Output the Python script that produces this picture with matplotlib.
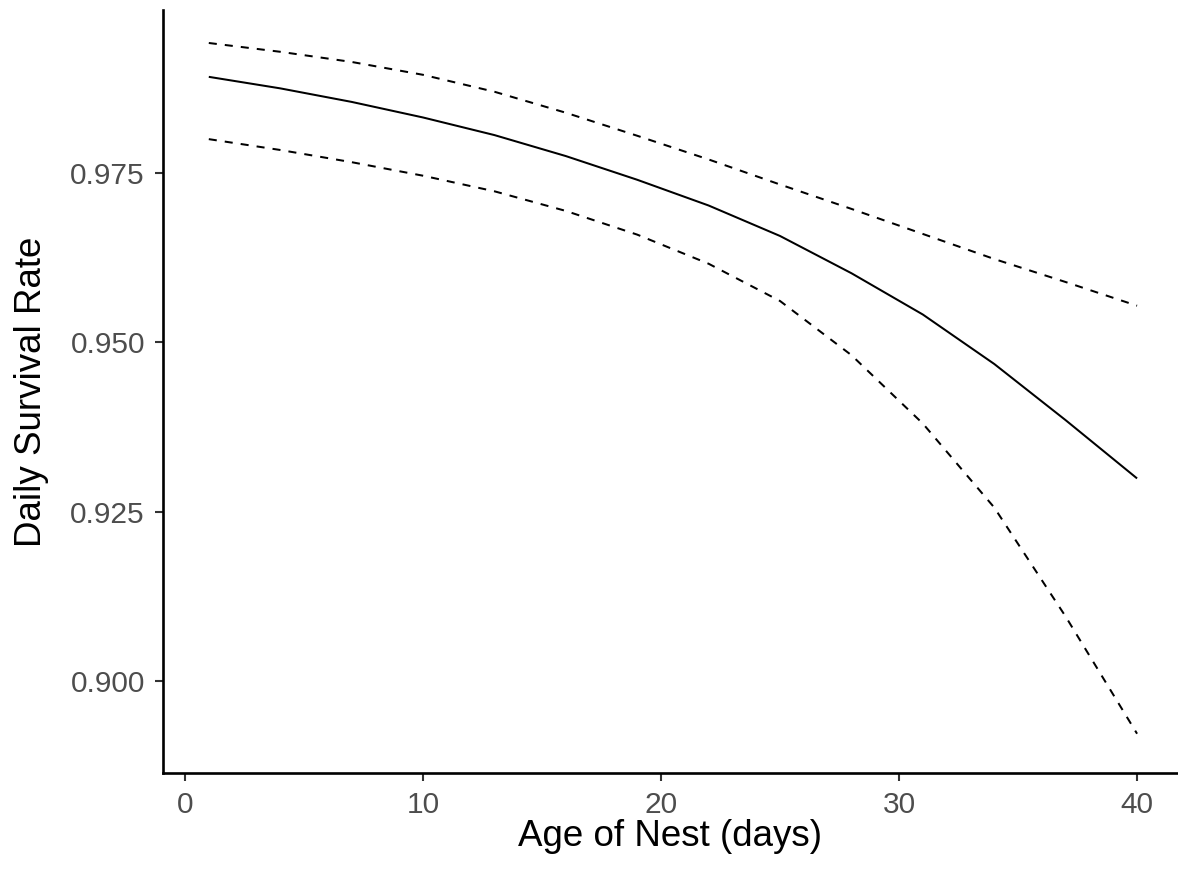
import numpy as np
import matplotlib.pyplot as plt

age = [1, 4, 7, 10, 13, 16, 19, 22, 25, 28, 31, 34, 37, 40]
dsr = [0.9892, 0.9875, 0.9855, 0.9832, 0.9806, 0.9775, 0.9740, 0.9702,
       0.9657, 0.9602, 0.9541, 0.9468, 0.9385, 0.9299]
upper = [0.9942, 0.9929, 0.9914, 0.9895, 0.9870, 0.9839, 0.9805, 0.9770,
         0.9733, 0.9697, 0.9660, 0.9623, 0.9589, 0.9554]
lower = [0.9800, 0.9784, 0.9766, 0.9746, 0.9723, 0.9694, 0.9659, 0.9616,
         0.9561, 0.9481, 0.9380, 0.9256, 0.9095, 0.8922]

xticks = [0, 10, 20, 30, 40]
yticks = [0.900, 0.925, 0.950, 0.975]

plt.rcParams['font.family'] = ['Liberation Sans', 'DejaVu Sans']

W, H = 1178, 880
fig = plt.figure(figsize=(W / 100, H / 100), dpi=100)
ax = fig.add_axes([163 / W, 1 - 773 / H, (W - 163) / W, (773 - 10) / H])

ax.plot(age, dsr, color='black', lw=1.45, solid_capstyle='butt')
ax.plot(age, upper, color='black', lw=1.45, linestyle=(0, (4, 4)))
ax.plot(age, lower, color='black', lw=1.45, linestyle=(0, (4, 4)))

ax.set_xlim(-0.924, 41.72)
ax.set_ylim(0.8864, 0.99907)
ax.set_xticks(xticks)
ax.set_yticks(yticks)
ax.set_yticklabels(['%.3f' % v for v in yticks])

for s in ['top', 'right']:
    ax.spines[s].set_visible(False)
for s in ['left', 'bottom']:
    ax.spines[s].set_linewidth(1.9)
    ax.spines[s].set_color('black')

ax.tick_params(axis='both', length=6, width=1.5, color='#333333',
               labelcolor='#4D4D4D', labelsize=21.5, pad=7)

ax.set_xlabel('Age of Nest (days)', fontsize=26.5, color='black', labelpad=0)
ax.set_ylabel('Daily Survival Rate', fontsize=26.5, color='black', labelpad=15)

fig.savefig('out.png', dpi=100, facecolor='white')
